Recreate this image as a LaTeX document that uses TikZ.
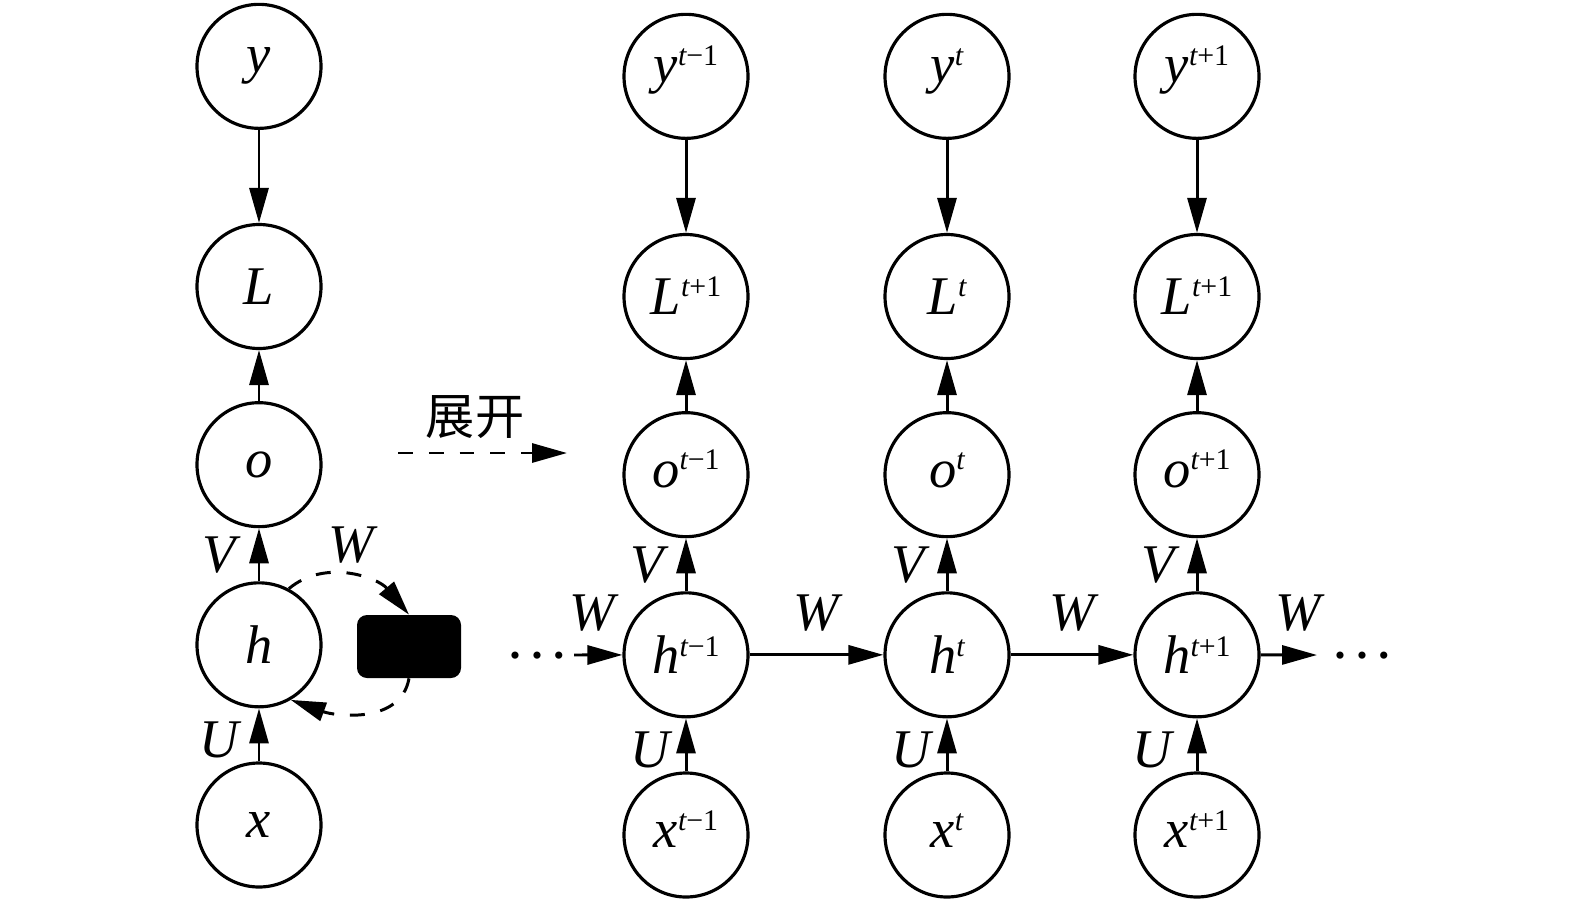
\documentclass[tikz,border=0pt]{standalone}
\usepackage{fontspec}
\setmainfont{Liberation Serif}
\newfontfamily\cjk{Noto Sans CJK SC}
\usetikzlibrary{positioning,arrows.meta}

\newcommand{\tidx}[2]{#1\raisebox{0.32em}[0pt][0pt]{\fontsize{17}{20}\selectfont #2}}

\tikzset{
    unit/.style={draw, circle, line width=1.8pt, minimum size=2.48cm, inner sep=0pt,
        font=\fontsize{31}{36}\selectfont\itshape},
    arr/.style={-{Triangle[length=0.7cm,width=0.38cm]}, line width=1.7pt},
    dsh/.style={arr, dash pattern=on 8.5pt off 9pt},
    lab/.style={font=\fontsize{31}{36}\selectfont\itshape, inner sep=0pt},
    dots/.style={font=\fontsize{17}{17}\selectfont, inner sep=0pt}
}

\begin{document}
\begin{tikzpicture}
    \useasboundingbox (0,0) rectangle (31.5,18.26);

    % folded network
    \node[unit] (x) at (5.18,1.76) {x};
    \node[unit, above=1.06cm of x] (h) {h};
    \node[unit, above=1.06cm of h] (o) {o};
    \node[unit, above=1.02cm of o] (L) {L};
    \node[unit, above=1.86cm of L] (y) {y};
    \node[fill=black, rounded corners=0.2cm, minimum width=2.08cm, minimum height=1.26cm] (delay) at (8.18,5.33) {};

    \draw[arr] (y) -- (L);
    \draw[arr] (o) -- (L);
    \draw[arr] (h) -- (o) node[lab, midway, xshift=-0.8cm] {V};
    \draw[arr] (x) -- (h) node[lab, midway, xshift=-0.8cm, yshift=-0.1cm] {U};
    \draw[dsh] (h.62) to[out=40,in=130] node[lab, midway, yshift=0.62cm] {W} (delay.north);
    \draw[dsh] (delay.south) to[out=-100,in=-20] (h.-60);

    % unfold
    \coordinate (us) at (7.96,9.2);
    \coordinate (ue) at (11.34,9.2);
    \draw[dsh] (us) -- (ue);
    \node[font=\fontsize{28}{30}\selectfont\cjk] (unfold) at (9.5,9.92) {展开};

    % unfolded network
    \node[unit] (x1) at (13.72,1.56) {\tidx{x}{t\upshape−1}};
    \node[unit, above=1.06cm of x1] (h1) {\tidx{h}{t\upshape−1}};
    \node[unit, above=1.06cm of h1] (o1) {\tidx{o}{t\upshape−1}};
    \node[unit, above=1.02cm of o1] (L1) {\tidx{L}{t\upshape+1}};
    \node[unit, above=1.86cm of L1] (y1) {\tidx{y}{t\upshape−1}};

    \node[unit] (x2) at (18.94,1.56) {\tidx{x}{t}};
    \node[unit, above=1.06cm of x2] (h2) {\tidx{h}{t}};
    \node[unit, above=1.06cm of h2] (o2) {\tidx{o}{t}};
    \node[unit, above=1.02cm of o2] (L2) {\tidx{L}{t}};
    \node[unit, above=1.86cm of L2] (y2) {\tidx{y}{t}};

    \node[unit] (x3) at (23.94,1.56) {\tidx{x}{t\upshape+1}};
    \node[unit, above=1.06cm of x3] (h3) {\tidx{h}{t\upshape+1}};
    \node[unit, above=1.06cm of h3] (o3) {\tidx{o}{t\upshape+1}};
    \node[unit, above=1.02cm of o3] (L3) {\tidx{L}{t\upshape+1}};
    \node[unit, above=1.86cm of L3] (y3) {\tidx{y}{t\upshape+1}};

    \draw[arr] (y1) -- (L1);
    \draw[arr] (o1) -- (L1);
    \draw[arr] (h1) -- (o1) node[lab, midway, xshift=-0.78cm] {V};
    \draw[arr] (x1) -- (h1) node[lab, midway, xshift=-0.72cm, yshift=-0.1cm] {U};
    \draw[arr] (y2) -- (L2);
    \draw[arr] (o2) -- (L2);
    \draw[arr] (h2) -- (o2) node[lab, midway, xshift=-0.78cm] {V};
    \draw[arr] (x2) -- (h2) node[lab, midway, xshift=-0.72cm, yshift=-0.1cm] {U};
    \draw[arr] (y3) -- (L3);
    \draw[arr] (o3) -- (L3);
    \draw[arr] (h3) -- (o3) node[lab, midway, xshift=-0.78cm] {V};
    \draw[arr] (x3) -- (h3) node[lab, midway, xshift=-0.9cm, yshift=-0.1cm] {U};

    % recurrent links
    \node[dots] (ldots) at (10.74,5.08) {•\hspace{0.38em}•\hspace{0.38em}•};
    \node[dots] (rdots) at (27.24,5.08) {•\hspace{0.38em}•\hspace{0.38em}•};
    \coordinate (lin) at (11.48,5.16);
    \coordinate (rout) at (26.34,5.16);
    \draw[arr] (lin) -- (h1) node[lab, midway, yshift=0.84cm, xshift=-0.12cm] {W};
    \draw[arr] (h1) -- (h2) node[lab, midway, yshift=0.84cm] {W};
    \draw[arr] (h2) -- (h3) node[lab, midway, yshift=0.84cm] {W};
    \draw[arr] (h3) -- (rout) node[lab, midway, yshift=0.84cm, xshift=0.18cm] {W};
\end{tikzpicture}
\end{document}
